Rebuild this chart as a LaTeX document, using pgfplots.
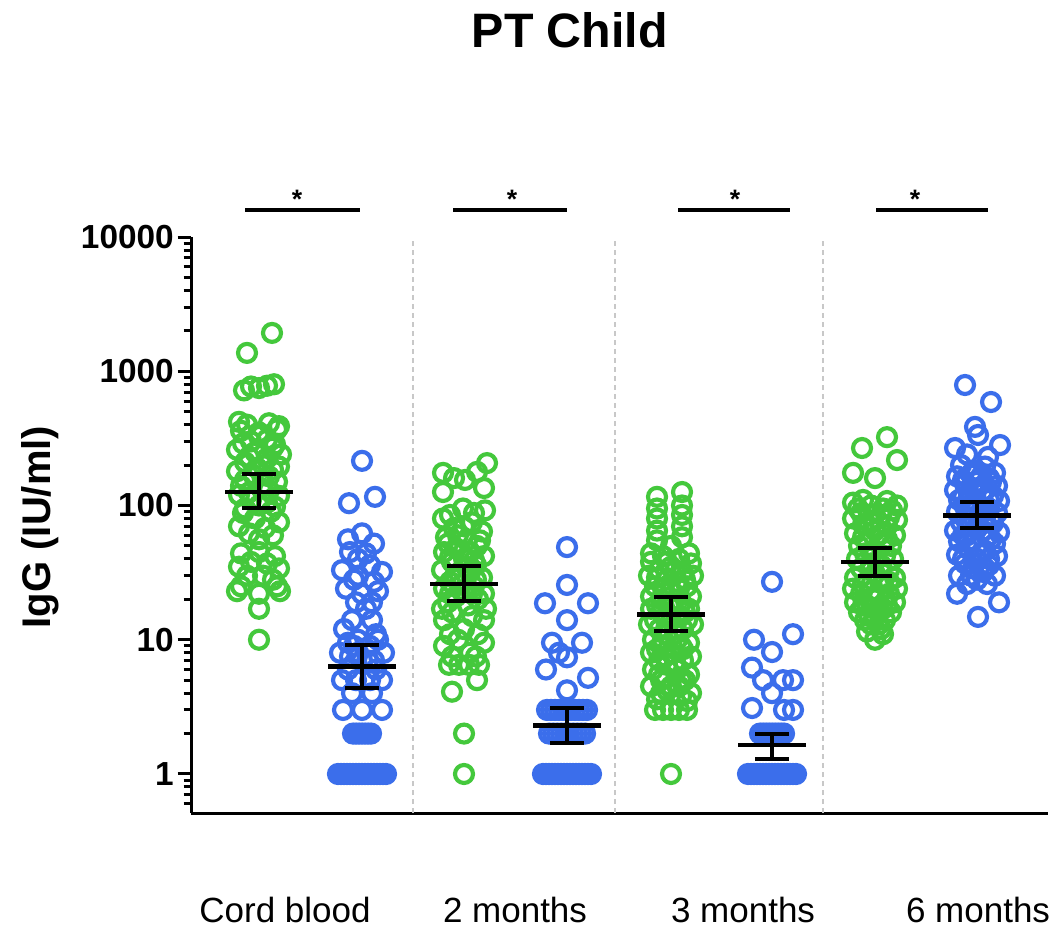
\documentclass[border=0pt]{standalone}
\usepackage{fontspec}
\setmainfont{Liberation Sans}
\usepackage{pgfplots}
\usepackage{pgfplotstable}
\pgfplotsset{compat=1.18}
\definecolor{ptgreen}{HTML}{44C83C}
\definecolor{ptblue}{HTML}{3B6EEB}
\definecolor{sepgray}{HTML}{C8C8C8}

% beeswarm points: horizontal offset from group centre (dx) and IgG value (y)
\pgfplotstableread{
dx y
13 1930
-12 1370
-15 720
-8 770
0 750
8 780
15 800
-12 400
10 410
-20 420
20 390
-18 360
0 350
18 370
0 330
-8 300
8 310
-16 290
16 285
-22 260
-4 250
14 270
22 240
-10 230
8 225
-14 210
4 200
20 195
-2 190
14 185
-22 180
-6 170
10 165
-14 155
18 150
4 145
-18 140
2 135
10 130
-10 125
-20 120
20 118
-8 110
8 105
0 100
-14 95
16 98
-16 88
12 90
-4 80
20 75
-20 70
6 68
-10 62
14 60
0 56
-18 44
0 45
16 42
-8 38
8 37
-20 35
20 34
-12 30
4 30
14 28
-18 25
18 25
-22 23
21 23
0 22
0 17
0 10
}\cordG

\pgfplotstableread{
dx y
0 215
-13 104
13 116
0 62
-14 56
12 52
-12 45
4 44
-4 40
8 36
-20 33
20 32
-4 30
-8 28
12 27
-16 24
16 23
0 22
-6 19
10 19
4 17
-10 14
10 14
-18 12
14 11
-4 10
16 10
-14 9.5
-8 9
8 9
-22 8
22 8
-4 8
-12 7.5
0 7
6 7
12 7
-14 6
14 6
-6 5
8 5
-20 5
20 5
-10 4
10 4
-19 3
20 3
0 3
-9 2
-6 2
-3 2
0 2
3 2
6 2
9 2
-24 1
-21 1
-18 1
-15 1
-12 1
-9 1
-6 1
-3 1
0 1
3 1
6 1
9 1
12 1
15 1
18 1
21 1
24 1
}\cordB

\pgfplotstableread{
dx y
23 207
13 178
-21 175
1 155
-10 160
-21 126
20 135
-1 95
21 92
10 88
-14 85
-21 80
8 75
0 70
-10 68
18 64
-6 60
-18 58
3 55
16 55
-16 52
13 50
-8 48
-20 45
6 45
20 42
-14 41
0 40
10 39
-12 38
12 36
2 35
-22 33
6 32
-4 30
18 29
-10 29
12 28
-14 27
-2 26
10 25
-20 24
0 23
20 22
-14 22
8 22
-8 21
14 20
-16 19
4 18
-22 17
22 17
-12 16
8 15
-20 14
20 14
0 12
-14 11
14 11
-6 10
20 9.5
-20 9
6 8
-12 7.5
12 7.5
-15 6.5
-5 6.5
5 6.5
15 6.5
13 5
-12 4.1
0 2
0 1
}\twoG

\pgfplotstableread{
dx y
0 49
0 25.6
-22 18.7
21 18.7
0 14
-15 9.5
15 9.5
-8 8
0 7.4
-21 6
21 5.2
0 4.2
-20 3
-16 3
-12 3
-8 3
-4 3
0 3
4 3
8 3
12 3
16 3
20 3
-18 2
-14 2
-10 2
-6 2
-2 2
2 2
6 2
10 2
14 2
18 2
-24 1
-21 1
-18 1
-15 1
-12 1
-9 1
-6 1
-3 1
0 1
3 1
6 1
9 1
12 1
15 1
18 1
21 1
24 1
}\twoB

\pgfplotstableread{
dx y
11 126
-14 116
11 100
-14 95
11 85
-14 80
11 70
-14 65
11 58
-14 55
0 50
-20 44
18 44
-8 42
8 40
-4 38
-20 38
20 37
0 35
-12 33
4 33
12 32
-22 30
22 30
-14 29
14 28
-4 28
6 27
-16 25
16 25
8 24
-8 24
0 23
-20 21
20 21
-10 20
10 19
0 19
-2 18
-14 18
-20 17
18 17
-10 16
14 16
10 15
-4 15
0 14
-16 14
16 14
-22 13
22 13
-12 12
12 12
4 12
-4 11
6 10
-8 10
-18 10
18 9.5
-10 9
10 9
12 8.5
-14 8.5
0 8
-20 8
20 7.5
-6 7.5
-12 7
12 7
4 6.8
-4 6.5
6 6
-18 6
18 5.5
-12 5.5
-10 5
10 5
14 5
0 4.5
8 4.5
-20 4.5
-4 4.2
20 4
-10 4
10 3.8
-14 3.6
16 3.5
-16 3
-8 3
0 3
8 3
16 3
0 1
}\threeG

\pgfplotstableread{
dx y
0 27
21 11
-18 10
0 8.1
-20 6.2
-9 5
11 5
21 5
0 4
-20 3.1
12 3
21 3
-12 2
-9 2
-6 2
-3 2
0 2
3 2
6 2
9 2
12 2
-24 1
-21 1
-18 1
-15 1
-12 1
-9 1
-6 1
-3 1
0 1
3 1
6 1
9 1
12 1
15 1
18 1
21 1
24 1
}\threeB

\pgfplotstableread{
dx y
12 323
-13 268
22 218
-22 175
0 160
-22 105
-12 110
12 108
22 100
-4 100
-17 95
8 95
17 92
-14 88
-6 85
6 85
14 82
-22 80
22 78
-2 75
-12 72
12 70
0 65
-20 62
4 60
20 60
-12 58
12 56
-8 55
8 54
-16 50
16 50
0 46
-4 45
-10 44
10 42
-18 40
18 40
-4 37
6 36
-14 34
14 33
0 31
-20 29
20 29
-8 27
14 27
8 26
-12 26
-22 24
22 24
-4 23
-14 22
14 22
4 21
0 20
-20 19
20 19
-8 18
-12 18
12 18
8 17
2 16.5
-16 16
16 16
0 15
-6 15
-10 14
10 14
-4 13
4 13
6 12
-8 11.5
8 11
0 10
}\sixG

\pgfplotstableread{
dx y
-12 790
14 590
-2 385
1 335
-22 268
23 282
11 230
-10 240
-16 200
8 195
-4 180
18 175
-6 170
4 165
-20 165
12 160
-14 155
0 150
14 150
-12 145
20 140
-4 135
-22 130
8 130
6 128
-8 120
16 118
-14 115
-18 110
12 110
22 108
0 102
-12 98
12 95
-6 95
-20 90
20 88
4 88
-4 82
8 80
-12 80
14 78
-16 75
16 74
-6 70
0 68
6 65
-22 65
22 63
-10 60
-14 60
10 58
14 56
-4 55
-18 54
18 52
0 50
-8 47
8 46
4 44
-20 43
20 42
0 40
-14 40
12 40
-12 37
12 36
-4 34
8 34
6 32
-18 30
18 30
-6 30
0 28
-10 26
10 26
-20 22
22 19
1 14.8
}\sixB

\pgfplotsset{
  dots/.style={only marks, mark=o, mark size=2.7pt, mark options={line width=1.25pt}},
}

\begin{document}
\begin{tikzpicture}
\path[use as bounding box] (0,0) rectangle (314.7pt,278.1pt);
\begin{axis}[
  at={(57.3pt,34.2pt)}, anchor=south west,
  scale only axis, width=257.1pt, height=172.8pt,
  ymode=log,
  xmin=191, xmax=1048, ymin=0.512, ymax=10000,
  axis x line*=bottom, axis y line*=left,
  axis line style={-, line width=0.9pt},
  clip=false, clip marker paths=true,
  ytick={1,10,100,1000,10000},
  yticklabels={1,10,100,1000,10000},
  minor ytick={0.6,0.7,0.8,0.9,2,3,4,5,6,7,8,9,20,30,40,50,60,70,80,90,200,300,400,500,600,700,800,900,2000,3000,4000,5000,6000,7000,8000,9000},
  tick align=outside,
  major tick length=4pt, minor tick length=2.2pt,
  tick style={black, line width=0.9pt},
  yticklabel style={font=\bfseries\fontsize{10}{12}\selectfont, inner sep=1pt},
  xtick={285,515,743,978},
  xticklabels={Cord blood,2 months,3 months,6 months},
  xtick style={draw=none},
  xticklabel style={font=\fontsize{10.5}{12}\selectfont, anchor=center, yshift=-25pt},
  ylabel={IgG (IU/ml)},
  ylabel style={at={(rel axis cs:-0.176,0.4965)}, anchor=center, font=\bfseries\fontsize{12}{14}\selectfont},
]
% dashed separators between time points
\addplot[sepgray, line width=0.6pt, dash pattern=on 1.5pt off 1.2pt] coordinates {(413,0.512) (413,10000)};
\addplot[sepgray, line width=0.6pt, dash pattern=on 1.5pt off 1.2pt] coordinates {(615,0.512) (615,10000)};
\addplot[sepgray, line width=0.6pt, dash pattern=on 1.5pt off 1.2pt] coordinates {(823,0.512) (823,10000)};

\addplot[dots, ptgreen] table[x expr=\thisrow{dx}+259, y=y] {\cordG};
\addplot[dots, ptblue]  table[x expr=\thisrow{dx}+362, y=y] {\cordB};
\addplot[dots, ptgreen] table[x expr=\thisrow{dx}+464, y=y] {\twoG};
\addplot[dots, ptblue]  table[x expr=\thisrow{dx}+567, y=y] {\twoB};
\addplot[dots, ptgreen] table[x expr=\thisrow{dx}+671, y=y] {\threeG};
\addplot[dots, ptblue]  table[x expr=\thisrow{dx}+772, y=y] {\threeB};
\addplot[dots, ptgreen] table[x expr=\thisrow{dx}+875, y=y] {\sixG};
\addplot[dots, ptblue]  table[x expr=\thisrow{dx}+977, y=y] {\sixB};

% mean with error bars
\addplot[black, only marks, mark=-, mark size=10.2pt, mark options={line width=1.4pt},
  error bars/.cd, y dir=both, y explicit, error mark=|,
  error bar style={line width=1.2pt, black},
  error mark options={mark size=5.1pt, line width=1.2pt, black}]
  coordinates {
  (259,126) += (0,46) -= (0,30)
  (362,6.3) += (0,2.8) -= (0,1.9)
  (464,26) += (0,9.5) -= (0,6.5)
  (567,2.3) += (0,0.8) -= (0,0.6)
  (671,15.5) += (0,5.3) -= (0,3.9)
  (772,1.64) += (0,0.36) -= (0,0.34)
  (875,38) += (0,10) -= (0,8)
  (977,84) += (0,22) -= (0,16)
  };

% significance bars
\addplot[black, line width=1.3pt] coordinates {(245,15890) (360,15890)};
\addplot[black, line width=1.3pt] coordinates {(453,15890) (567,15890)};
\addplot[black, line width=1.3pt] coordinates {(678,15890) (790,15890)};
\addplot[black, line width=1.3pt] coordinates {(876,15890) (988,15890)};
\node[font=\bfseries\fontsize{8}{9}\selectfont] at (axis cs:297,19000) {*};
\node[font=\bfseries\fontsize{8}{9}\selectfont] at (axis cs:512,19000) {*};
\node[font=\bfseries\fontsize{8}{9}\selectfont] at (axis cs:735,19000) {*};
\node[font=\bfseries\fontsize{8}{9}\selectfont] at (axis cs:915,19000) {*};

% title
\node[font=\bfseries\fontsize{14.5}{17}\selectfont, anchor=center] at (rel axis cs:0.442,1.359) {PT Child};
\end{axis}
\end{tikzpicture}
\end{document}
